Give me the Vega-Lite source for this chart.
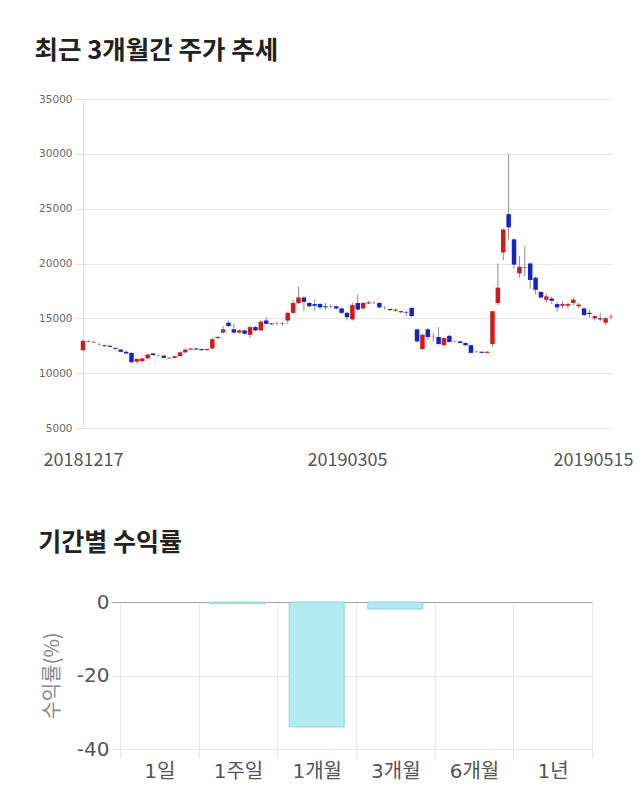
{
  "$schema": "https://vega.github.io/schema/vega-lite/v6.json",
  "background": "white",
  "padding": {"left": 34, "top": 38, "right": 0, "bottom": 0},
  "spacing": 62,
  "config": {
    "view": {"stroke": null},
    "font": "Noto Sans CJK KR",
    "title": {"anchor": "start", "fontSize": 25.5, "fontWeight": "bold", "color": "#222", "font": "Noto Sans CJK KR", "dx": -4}
  },
  "datasets": {
    "candles": [
      {"d": "20181217", "o": 12100, "h": 13050, "l": 12000, "c": 12950},
      {"d": "20181218", "o": 12850, "h": 13000, "l": 12800, "c": 12900},
      {"d": "20181219", "o": 12800, "h": 12950, "l": 12750, "c": 12850},
      {"d": "20181220", "o": 12600, "h": 12750, "l": 12500, "c": 12620},
      {"d": "20181221", "o": 12450, "h": 12600, "l": 12400, "c": 12550},
      {"d": "20181224", "o": 12500, "h": 12550, "l": 12350, "c": 12400},
      {"d": "20181226", "o": 12200, "h": 12350, "l": 12150, "c": 12300},
      {"d": "20181227", "o": 12150, "h": 12200, "l": 11900, "c": 11950},
      {"d": "20181228", "o": 11950, "h": 12000, "l": 11700, "c": 11800},
      {"d": "20190102", "o": 11850, "h": 11900, "l": 10900, "c": 11000},
      {"d": "20190103", "o": 11050, "h": 11350, "l": 10850, "c": 11300},
      {"d": "20190104", "o": 11100, "h": 11400, "l": 11000, "c": 11350},
      {"d": "20190107", "o": 11350, "h": 11750, "l": 11300, "c": 11700},
      {"d": "20190108", "o": 11800, "h": 11850, "l": 11600, "c": 11650},
      {"d": "20190109", "o": 11600, "h": 11700, "l": 11550, "c": 11620},
      {"d": "20190110", "o": 11600, "h": 11650, "l": 11350, "c": 11400},
      {"d": "20190111", "o": 11400, "h": 11450, "l": 11300, "c": 11350},
      {"d": "20190114", "o": 11400, "h": 11600, "l": 11350, "c": 11550},
      {"d": "20190115", "o": 11550, "h": 11950, "l": 11500, "c": 11900},
      {"d": "20190116", "o": 11900, "h": 12250, "l": 11850, "c": 12150},
      {"d": "20190117", "o": 12150, "h": 12300, "l": 12100, "c": 12250},
      {"d": "20190118", "o": 12250, "h": 12300, "l": 12100, "c": 12150},
      {"d": "20190121", "o": 12200, "h": 12250, "l": 12050, "c": 12100},
      {"d": "20190122", "o": 12100, "h": 12250, "l": 12050, "c": 12200},
      {"d": "20190123", "o": 12250, "h": 13200, "l": 12200, "c": 13100},
      {"d": "20190124", "o": 13200, "h": 13400, "l": 13100, "c": 13300},
      {"d": "20190125", "o": 13700, "h": 14300, "l": 13600, "c": 14000},
      {"d": "20190128", "o": 14600, "h": 14800, "l": 14200, "c": 14300},
      {"d": "20190129", "o": 14000, "h": 14500, "l": 13600, "c": 13700},
      {"d": "20190130", "o": 13700, "h": 14000, "l": 13600, "c": 13900},
      {"d": "20190131", "o": 13900, "h": 14000, "l": 13500, "c": 13600},
      {"d": "20190201", "o": 13500, "h": 14300, "l": 13200, "c": 14200},
      {"d": "20190207", "o": 14200, "h": 14300, "l": 13800, "c": 13900},
      {"d": "20190208", "o": 13900, "h": 14800, "l": 13850, "c": 14700},
      {"d": "20190211", "o": 14800, "h": 15100, "l": 14400, "c": 14500},
      {"d": "20190212", "o": 14450, "h": 14600, "l": 14400, "c": 14550},
      {"d": "20190213", "o": 14500, "h": 14700, "l": 14350, "c": 14520},
      {"d": "20190214", "o": 14500, "h": 14700, "l": 14300, "c": 14550},
      {"d": "20190215", "o": 14800, "h": 15600, "l": 14500, "c": 15500},
      {"d": "20190218", "o": 15500, "h": 16700, "l": 15400, "c": 16400},
      {"d": "20190219", "o": 16400, "h": 17900, "l": 16300, "c": 16900},
      {"d": "20190220", "o": 16900, "h": 17000, "l": 15700, "c": 16500},
      {"d": "20190221", "o": 16400, "h": 16500, "l": 16000, "c": 16100},
      {"d": "20190222", "o": 16300, "h": 16700, "l": 15700, "c": 16150},
      {"d": "20190225", "o": 16300, "h": 16400, "l": 15800, "c": 16000},
      {"d": "20190226", "o": 16100, "h": 16400, "l": 15750, "c": 16000},
      {"d": "20190227", "o": 16050, "h": 16300, "l": 15900, "c": 16080},
      {"d": "20190228", "o": 16100, "h": 16200, "l": 15800, "c": 15900},
      {"d": "20190304", "o": 15900, "h": 16000, "l": 15400, "c": 15500},
      {"d": "20190305", "o": 15500, "h": 15600, "l": 14800, "c": 15100},
      {"d": "20190306", "o": 14900, "h": 16400, "l": 14800, "c": 16200},
      {"d": "20190307", "o": 16400, "h": 17200, "l": 15700, "c": 15800},
      {"d": "20190308", "o": 15900, "h": 16500, "l": 15800, "c": 16400},
      {"d": "20190311", "o": 16350, "h": 16600, "l": 16300, "c": 16450},
      {"d": "20190312", "o": 16400, "h": 16600, "l": 16300, "c": 16420},
      {"d": "20190313", "o": 16400, "h": 16500, "l": 15900, "c": 16000},
      {"d": "20190314", "o": 15950, "h": 16100, "l": 15800, "c": 15970},
      {"d": "20190315", "o": 15850, "h": 15900, "l": 15700, "c": 15750},
      {"d": "20190318", "o": 15700, "h": 15900, "l": 15600, "c": 15800},
      {"d": "20190319", "o": 15650, "h": 15700, "l": 15500, "c": 15550},
      {"d": "20190320", "o": 15550, "h": 15700, "l": 15200, "c": 15500},
      {"d": "20190321", "o": 15950, "h": 16000, "l": 15100, "c": 15200},
      {"d": "20190322", "o": 14000, "h": 14000, "l": 12800, "c": 12900},
      {"d": "20190325", "o": 12200, "h": 13600, "l": 12100, "c": 13500},
      {"d": "20190326", "o": 14000, "h": 14100, "l": 13000, "c": 13300},
      {"d": "20190327", "o": 13300, "h": 13700, "l": 12900, "c": 13320},
      {"d": "20190328", "o": 13300, "h": 14200, "l": 12600, "c": 12650},
      {"d": "20190329", "o": 12550, "h": 13300, "l": 12500, "c": 13200},
      {"d": "20190401", "o": 13400, "h": 13500, "l": 12800, "c": 12850},
      {"d": "20190402", "o": 12900, "h": 13000, "l": 12800, "c": 12920},
      {"d": "20190403", "o": 12900, "h": 12950, "l": 12700, "c": 12750},
      {"d": "20190404", "o": 12750, "h": 12800, "l": 12500, "c": 12550},
      {"d": "20190405", "o": 12550, "h": 12600, "l": 11800, "c": 11850},
      {"d": "20190408", "o": 11950, "h": 12050, "l": 11850, "c": 11970},
      {"d": "20190409", "o": 11950, "h": 12000, "l": 11800, "c": 11850},
      {"d": "20190410", "o": 11850, "h": 12000, "l": 11800, "c": 11950},
      {"d": "20190411", "o": 12650, "h": 15700, "l": 12400, "c": 15650},
      {"d": "20190412", "o": 16400, "h": 20000, "l": 16200, "c": 17800},
      {"d": "20190415", "o": 21000, "h": 23200, "l": 20300, "c": 23100},
      {"d": "20190416", "o": 24500, "h": 30000, "l": 22100, "c": 23300},
      {"d": "20190417", "o": 22200, "h": 22300, "l": 19500, "c": 19900},
      {"d": "20190418", "o": 19100, "h": 20700, "l": 18700, "c": 19700},
      {"d": "20190419", "o": 19600, "h": 21600, "l": 18800, "c": 19650},
      {"d": "20190422", "o": 20000, "h": 20100, "l": 17700, "c": 18500},
      {"d": "20190423", "o": 18700, "h": 18800, "l": 17200, "c": 17600},
      {"d": "20190424", "o": 17400, "h": 17500, "l": 16800, "c": 16900},
      {"d": "20190425", "o": 16700, "h": 17200, "l": 16400, "c": 17000},
      {"d": "20190426", "o": 16800, "h": 17000, "l": 16300, "c": 16600},
      {"d": "20190429", "o": 16300, "h": 16500, "l": 15600, "c": 16000},
      {"d": "20190430", "o": 16150, "h": 16500, "l": 15900, "c": 16300},
      {"d": "20190502", "o": 16150, "h": 16400, "l": 15900, "c": 16300},
      {"d": "20190503", "o": 16400, "h": 16900, "l": 16200, "c": 16700},
      {"d": "20190507", "o": 16100, "h": 16400, "l": 15900, "c": 16250},
      {"d": "20190508", "o": 15900, "h": 16000, "l": 15200, "c": 15300},
      {"d": "20190509", "o": 15500, "h": 15800, "l": 15100, "c": 15400},
      {"d": "20190510", "o": 15000, "h": 15300, "l": 14800, "c": 15200},
      {"d": "20190513", "o": 15000, "h": 15500, "l": 14700, "c": 14900},
      {"d": "20190514", "o": 14600, "h": 15100, "l": 14400, "c": 15000},
      {"d": "20190515", "o": 15100, "h": 15400, "l": 14900, "c": 15150}
    ],
    "returns": [
      {"p": "1일", "r": null},
      {"p": "1주일", "r": -0.45},
      {"p": "1개월", "r": -34.0},
      {"p": "3개월", "r": -1.9},
      {"p": "6개월", "r": null},
      {"p": "1년", "r": null}
    ]
  },
  "vconcat": [
    {
      "title": {"text": "최근 3개월간 주가 추세", "offset": 30},
      "width": 528,
      "height": 329,
      "data": {"name": "candles"},
      "encoding": {
        "x": {
          "field": "d",
          "type": "ordinal",
          "scale": {"type": "point", "padding": 0},
          "axis": {
            "title": null,
            "values": ["20181217", "20190305", "20190515"],
            "labelAngle": 0,
            "domain": false,
            "ticks": false,
            "grid": false,
            "labelFontSize": 18,
            "labelColor": "#555",
            "labelPadding": 23,
            "labelFont": "Noto Sans CJK KR",
            "labelOffset": {"condition": {"test": "datum.value === '20190515'", "value": -18}, "value": 0}
          }
        }
      },
      "layer": [
        {
          "mark": {"type": "rule", "color": "#8c8c8c", "strokeWidth": 1},
          "encoding": {
            "y": {
              "field": "l",
              "type": "quantitative",
              "scale": {"domain": [5000, 35000], "nice": false, "zero": false},
              "axis": {
                "title": null,
                "format": "d",
                "values": [5000, 10000, 15000, 20000, 25000, 30000, 35000],
                "grid": true,
                "gridColor": "#e6e6e6",
                "domain": true,
                "domainColor": "#e0e0e0",
                "tickColor": "#e0e0e0",
                "tickSize": 8,
                "labelPadding": 3,
                "labelFontSize": 10.5,
                "labelColor": "#666",
                "labelFont": "DejaVu Sans"
              }
            },
            "y2": {"field": "h"}
          }
        },
        {
          "mark": {"type": "bar", "width": 4.5},
          "encoding": {
            "y": {"field": "o", "type": "quantitative"},
            "y2": {"field": "c"},
            "color": {"condition": {"test": "datum.c >= datum.o", "value": "#cf1b1b"}, "value": "#1424c4"}
          }
        }
      ]
    },
    {
      "title": {"text": "기간별 수익률", "offset": 36, "fontSize": 25},
      "width": 509,
      "height": 147,
      "data": {"name": "returns"},
      "mark": {"type": "bar", "width": {"band": 0.7}, "fill": "#b2eaf2", "stroke": "#94d2dc", "strokeWidth": 1},
      "encoding": {
        "x": {
          "field": "p",
          "type": "nominal",
          "sort": null,
          "scale": {"domain": ["1일", "1주일", "1개월", "3개월", "6개월", "1년"], "range": [37, 509], "paddingInner": 0, "paddingOuter": 0},
          "axis": {
            "title": null,
            "labelAngle": 0,
            "tickBand": "extent",
            "grid": true,
            "gridColor": "#e6e6e6",
            "ticks": true,
            "tickColor": "#e6e6e6",
            "tickSize": 9,
            "domain": false,
            "labelFontSize": 20,
            "labelColor": "#555",
            "labelFont": "DejaVu Sans, Noto Sans CJK KR",
            "labelPadding": 3
          }
        },
        "y": {
          "field": "r",
          "type": "quantitative",
          "scale": {"domain": [-40, 0], "nice": false},
          "axis": {
            "offset": -37,
            "title": "수익률(%)",
            "titleFontSize": 20,
            "titleFontWeight": "normal",
            "titleColor": "#888",
            "titlePadding": 14,
            "values": [0, -20, -40],
            "labelExpr": "datum.value === 0 ? '0' : '-' + abs(datum.value)",
            "grid": true,
            "gridColor": {"condition": {"test": "datum.value === 0", "value": "#a8a8a8"}, "value": "#e6e6e6"},
            "tickColor": {"condition": {"test": "datum.value === 0", "value": "#a8a8a8"}, "value": "#e6e6e6"},
            "tickSize": 9,
            "domain": false,
            "labelFontSize": 20,
            "labelColor": "#555",
            "labelFont": "DejaVu Sans",
            "labelPadding": 2
          }
        }
      }
    }
  ]
}
